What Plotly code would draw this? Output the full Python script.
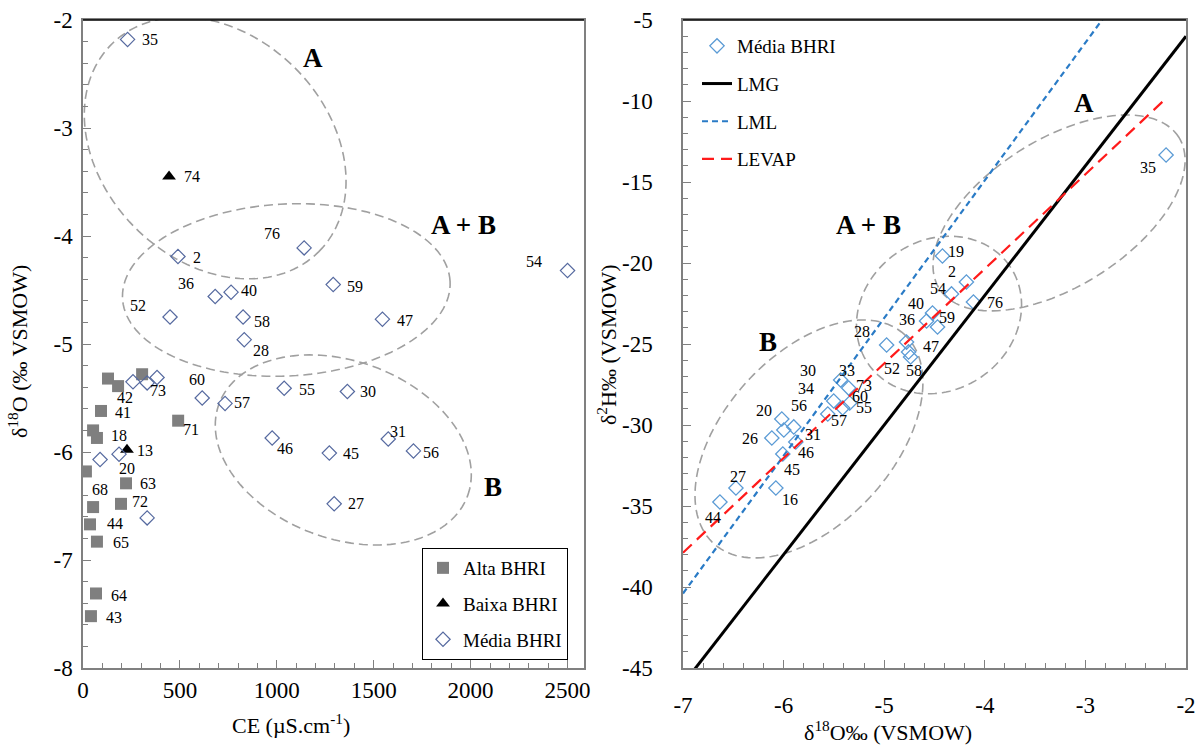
import numpy as np
import plotly.graph_objects as go

# ---------------- Left panel data (CE vs d18O) ----------------
alta_ce = [129, 181, 305, 93, 52, 72, 491, 15, 222, 52, 196, 36, 72, 67, 41]
alta_o18 = [-5.32, -5.39, -5.28, -5.62, -5.80, -5.87, -5.71, -6.18, -6.29, -6.51, -6.48, -6.67, -6.83, -7.31, -7.52]
alta_ids = ["", "42", "", "41", "18", "", "71", "68", "63", "", "72", "44", "65", "64", "43"]

baixa_ce = [444, 227]
baixa_o18 = [-3.45, -5.98]
baixa_ids = ["74", "13"]

media_ce = [230, 1141, 490, 682, 764, 449, 826, 832, 1291, 1545, 2500, 1038, 1364, 615, 733,
            258, 331, 382, 976, 1271, 1575, 1705, 1296, 88, 186, 331]
media_o18 = [-2.18, -4.11, -4.19, -4.56, -4.52, -4.75, -4.75, -4.96, -4.45, -4.77, -4.32, -5.41, -5.44,
             -5.50, -5.55, -5.35, -5.36, -5.31, -5.87, -6.01, -5.88, -5.99, -6.48, -6.07, -6.02, -6.61]
media_ids = ["35", "76", "2", "36", "40", "52", "58", "28", "59", "47", "54", "55", "30", "60", "57",
             "", "73", "", "46", "45", "31", "56", "27", "", "20", ""]

left_xticks = [0, 500, 1000, 1500, 2000, 2500]
left_xticktext = ["0", "500", "1000", "1500", "2000", "2500"]
left_yticks = [-8, -7, -6, -5, -4, -3, -2]
left_yticktext = ["-8", "-7", "-6", "-5", "-4", "-3", "-2"]

# ---------------- Right panel data (d18O vs d2H) ----------------
r_o18 = [-6.633, -6.474, -6.077, -6.117, -6.018, -5.998, -5.899, -5.879, -6.008, -5.433, -5.353, -5.502,
         -5.413, -5.343, -5.561, -4.976, -4.778, -4.758, -4.738, -4.579, -4.520, -4.470, -4.331, -4.183,
         -4.421, -4.113, -2.198]
r_h2 = [-34.75, -33.89, -33.89, -30.80, -29.63, -30.31, -30.12, -31.05, -31.79, -27.22, -27.72, -28.52,
        -28.95, -28.64, -29.32, -25.06, -24.88, -25.49, -25.80, -23.58, -23.09, -23.95, -21.91, -21.17,
        -19.57, -22.41, -13.33]
r_label_text = ["44", "27", "16", "26", "20", "56", "31", "46", "45", "33", "73", "60", "55", "57", "34",
                "30", "52", "28", "47", "58", "36", "40", "59", "54", "2", "19", "76", "35"]
r_label_idx = [0, 1, 2, 3, 4, 6, 7, 8, 8, 9, 10, 13, 12, 14, 11, 11, 15, 15, 16, 18, 19, 20, 21, 22, 23,
               24, 25, 26]

lmg_x = [-7.0, -2.0]
lmg_y = [-46.0, -6.0]
lml_x = [-7.0, -2.0]
lml_y = [-40.4, 2.1]
levap_x = [-7.0, -2.19]
levap_y = [-37.88, -9.79]

right_xticks = [-7, -6, -5, -4, -3, -2]
right_xticktext = ["-7", "-6", "-5", "-4", "-3", "-2"]
right_yticks = [-45, -40, -35, -30, -25, -20, -15, -10, -5]
right_yticktext = ["-45", "-40", "-35", "-30", "-25", "-20", "-15", "-10", "-5"]

# ---------------- Styles / layout helpers ----------------
FONT = "Liberation Serif"
W, H = 1204, 746
L_X0, L_X1 = 83, 584
R_X0, R_X1 = 683, 1186
Y0, Y1 = 20, 668
L_XR = [0, 2585]
L_YR = [-8, -2]
R_XR = [-7, -2]
R_YR = [-45, -5]
l_sx = (L_X1 - L_X0) / (L_XR[1] - L_XR[0])
l_sy = (Y1 - Y0) / (L_YR[1] - L_YR[0])
r_sx = (R_X1 - R_X0) / (R_XR[1] - R_XR[0])
r_sy = (Y1 - Y0) / (R_YR[1] - R_YR[0])

left_label_off = {
    "35": (22, 0), "76": (-32, -14), "2": (19, 1), "36": (-29, -13), "40": (18, -2), "52": (-32, -12),
    "58": (19, 4), "28": (17, 11), "59": (22, 2), "47": (23, 1), "54": (-34, -9), "55": (23, 1),
    "30": (21, 0), "60": (-5, -19), "57": (17, -1), "73": (11, 8), "46": (13, 11), "45": (22, 0),
    "31": (10, -8), "56": (18, 2), "27": (22, 0), "20": (8, 14), "42": (7, 11), "41": (22, 2),
    "18": (26, 5), "71": (13, 9), "68": (14, 18), "63": (22, 0), "72": (19, -2), "44": (25, -1),
    "65": (24, 1), "64": (23, 2), "43": (23, 1), "74": (23, 0), "13": (18, 1),
}
right_label_off = {
    "44": (-7, 16), "27": (2, -12), "16": (14, 11), "26": (-22, 1), "20": (-18, -9), "56": (5, -21),
    "31": (17, -8), "46": (23, -2), "45": (9, 15), "33": (6, -9), "73": (15, -3), "60": (10, -6),
    "55": (21, 0), "57": (11, 7), "34": (-28, -13), "30": (-26, -31), "52": (5, 24), "28": (-25, -13),
    "47": (24, 4), "58": (3, 14), "36": (-20, -2), "40": (-16, -10), "59": (9, -9), "54": (-14, -5),
    "2": (-14, -10), "19": (14, -5), "76": (22, 0), "35": (-18, 13),
}

# ellipses: (cx, cy) data, semi axes px, angle deg (visual, ccw)
left_ellipses = [((682, -3.185), 146.6, 113, -45), ((1049, -4.5), 164, 86, 3), ((1343, -5.981), 132.5, 88.7, -20.3)]
right_ellipses = [((-3.262, -16.91), 141.7, 73.5, 32.3), ((-4.455, -23.21), 86, 75, 35), ((-5.748, -30.86), 141.5, 84.4, 47.6)]


def ellipse_path(c, a, b, ang, sx, sy, n=140):
    t = np.linspace(0, 2 * np.pi, n)
    th = np.radians(ang)
    dx = a * np.cos(t) * np.cos(th) - b * np.sin(t) * np.sin(th)
    dy = a * np.cos(t) * np.sin(th) + b * np.sin(t) * np.cos(th)
    xs = c[0] + dx / sx
    ys = c[1] + dy / sy
    return "M " + " L ".join(f"{x:.4f},{y:.4f}" for x, y in zip(xs, ys)) + " Z"


fig = go.Figure()

# Left traces
fig.add_trace(go.Scatter(x=alta_ce, y=alta_o18, mode="markers", name="Alta BHRI",
                         marker=dict(symbol="square", size=12, color="#7f7f7f"),
                         xaxis="x", yaxis="y", legend="legend", legendgroup="a"))
fig.add_trace(go.Scatter(x=baixa_ce, y=baixa_o18, mode="markers", name="Baixa BHRI",
                         marker=dict(symbol="triangle-up", size=12, color="black"),
                         xaxis="x", yaxis="y", legend="legend", legendgroup="b"))
fig.add_trace(go.Scatter(x=media_ce, y=media_o18, mode="markers", name="Média BHRI",
                         marker=dict(symbol="diamond-open", size=11, color="#55699f", line=dict(width=1.2)),
                         xaxis="x", yaxis="y", legend="legend", legendgroup="c"))

# Right traces
fig.add_trace(go.Scatter(x=r_o18, y=r_h2, mode="markers", name="Média BHRI",
                         marker=dict(symbol="diamond-open", size=11, color="#5b9bd5", line=dict(width=1.3)),
                         xaxis="x2", yaxis="y2", legend="legend2", legendgroup="d"))
fig.add_trace(go.Scatter(x=lmg_x, y=lmg_y, mode="lines", name="LMG",
                         line=dict(color="black", width=3),
                         xaxis="x2", yaxis="y2", legend="legend2", legendgroup="e"))
fig.add_trace(go.Scatter(x=lml_x, y=lml_y, mode="lines", name="LML",
                         line=dict(color="#2a7bc6", width=2.2, dash="6px,4px"),
                         xaxis="x2", yaxis="y2", legend="legend2", legendgroup="f"))
fig.add_trace(go.Scatter(x=levap_x, y=levap_y, mode="lines", name="LEVAP",
                         line=dict(color="#ff1a1a", width=2.2, dash="12px,7px"),
                         xaxis="x2", yaxis="y2", legend="legend2", legendgroup="g"))

annotations = []
lab_font = dict(family=FONT, size=16, color="black")
for xs, ys, ids in [(alta_ce, alta_o18, alta_ids), (baixa_ce, baixa_o18, baixa_ids), (media_ce, media_o18, media_ids)]:
    for x, y, t in zip(xs, ys, ids):
        if not t:
            continue
        dx, dy = left_label_off[t]
        annotations.append(dict(x=x, y=y, xref="x", yref="y", text=t, showarrow=False, xshift=dx, yshift=-dy,
                                font=lab_font, xanchor="center", yanchor="middle"))
for t, i in zip(r_label_text, r_label_idx):
    dx, dy = right_label_off[t]
    annotations.append(dict(x=r_o18[i], y=r_h2[i], xref="x2", yref="y2", text=t, showarrow=False, xshift=dx,
                            yshift=-dy, font=lab_font, xanchor="center", yanchor="middle"))

big = dict(family=FONT, size=27, color="black")
for txt, x, y, xr, yr in [("A", 1188, -2.352, "x", "y"), ("A + B", 1963, -3.898, "x", "y"), ("B", 2113, -6.324, "x", "y"),
                          ("A", -3.014, -10.12, "x2", "y2"), ("A + B", -5.161, -17.65, "x2", "y2"),
                          ("B", -6.155, -24.88, "x2", "y2")]:
    annotations.append(dict(x=x, y=y, xref=xr, yref=yr, text=f"<b>{txt}</b>", showarrow=False, font=big,
                            xanchor="center", yanchor="middle"))

title_font = dict(family=FONT, size=22, color="black")
annotations += [
    dict(x=291 / W, y=1 - 724 / H, xref="paper", yref="paper", text="CE (µS.cm<sup>-1</sup>)", showarrow=False,
         font=title_font, xanchor="center", yanchor="middle"),
    dict(x=888 / W, y=1 - 731 / H, xref="paper", yref="paper", text="δ<sup>18</sup>O‰ (VSMOW)", showarrow=False,
         font=title_font, xanchor="center", yanchor="middle"),
    dict(x=18 / W, y=1 - 352 / H, xref="paper", yref="paper", text="δ<sup>18</sup>O (‰ VSMOW)", showarrow=False,
         font=title_font, xanchor="center", yanchor="middle", textangle=-90),
    dict(x=607 / W, y=1 - 345 / H, xref="paper", yref="paper", text="δ<sup>2</sup>H‰ (VSMOW)", showarrow=False,
         font=title_font, xanchor="center", yanchor="middle", textangle=-90),
]

shapes = []
ell_line = dict(color="#a0a0a0", width=1.6, dash="9px,5px")
for c, a, b, ang in left_ellipses:
    shapes.append(dict(type="path", path=ellipse_path(c, a, b, ang, l_sx, l_sy), xref="x", yref="y", line=ell_line,
                       layer="below"))
for c, a, b, ang in right_ellipses:
    shapes.append(dict(type="path", path=ellipse_path(c, a, b, ang, r_sx, r_sy), xref="x2", yref="y2", line=ell_line,
                       layer="below"))
for xr, yr in [("x domain", "y domain"), ("x2 domain", "y2 domain")]:
    shapes.append(dict(type="line", x0=0, x1=1, y0=1, y1=1, xref=xr, yref=yr, line=dict(color="black", width=1.5)))

tick_font = dict(family=FONT, size=23, color="black")
axcommon = dict(showgrid=False, zeroline=False, showline=True, linecolor="#808080", linewidth=1.5, mirror=True,
                ticks="inside", ticklen=8, tickwidth=1.2, tickcolor="#808080", tickfont=tick_font,
                tickmode="array", automargin=False)
dom_y = [1 - Y1 / H, 1 - Y0 / H]

fig.update_layout(
    width=W, height=H, margin=dict(l=0, r=0, t=0, b=0, autoexpand=False), paper_bgcolor="white",
    plot_bgcolor="white",
    font=dict(family=FONT, color="black"),
    xaxis=dict(domain=[L_X0 / W, L_X1 / W], range=L_XR, anchor="y", tickvals=left_xticks, ticktext=left_xticktext,
               minor=dict(dtick=100, tick0=0, ticks="inside", ticklen=5, tickcolor="#808080"),
               ticklabelstandoff=1, **axcommon),
    yaxis=dict(domain=dom_y, range=L_YR, anchor="x", tickvals=left_yticks, ticktext=left_yticktext,
               minor=dict(dtick=0.2, tick0=0, ticks="inside", ticklen=5, tickcolor="#808080"),
               ticklabelstandoff=4, **axcommon),
    xaxis2=dict(domain=[R_X0 / W, R_X1 / W], range=R_XR, anchor="y2", tickvals=right_xticks,
                ticktext=right_xticktext,
                minor=dict(dtick=0.2, tick0=0, ticks="inside", ticklen=5, tickcolor="#808080"),
                ticklabelstandoff=16, **axcommon),
    yaxis2=dict(domain=dom_y, range=R_YR, anchor="x2", tickvals=right_yticks, ticktext=right_yticktext,
                minor=dict(dtick=1, tick0=0, ticks="inside", ticklen=5, tickcolor="#808080"),
                ticklabelstandoff=24, **axcommon),
    legend=dict(x=422 / W, y=1 - 548 / H, xanchor="left", yanchor="top", bordercolor="black", borderwidth=1,
                bgcolor="white", font=dict(family=FONT, size=19, color="black"), tracegroupgap=8,
                itemwidth=30),
    legend2=dict(x=697 / W, y=1 - 27 / H, xanchor="left", yanchor="top", bgcolor="rgba(0,0,0,0)",
                 font=dict(family=FONT, size=19, color="black"), tracegroupgap=10, itemwidth=30),
    annotations=annotations, shapes=shapes,
)

fig.write_html("out.html")
